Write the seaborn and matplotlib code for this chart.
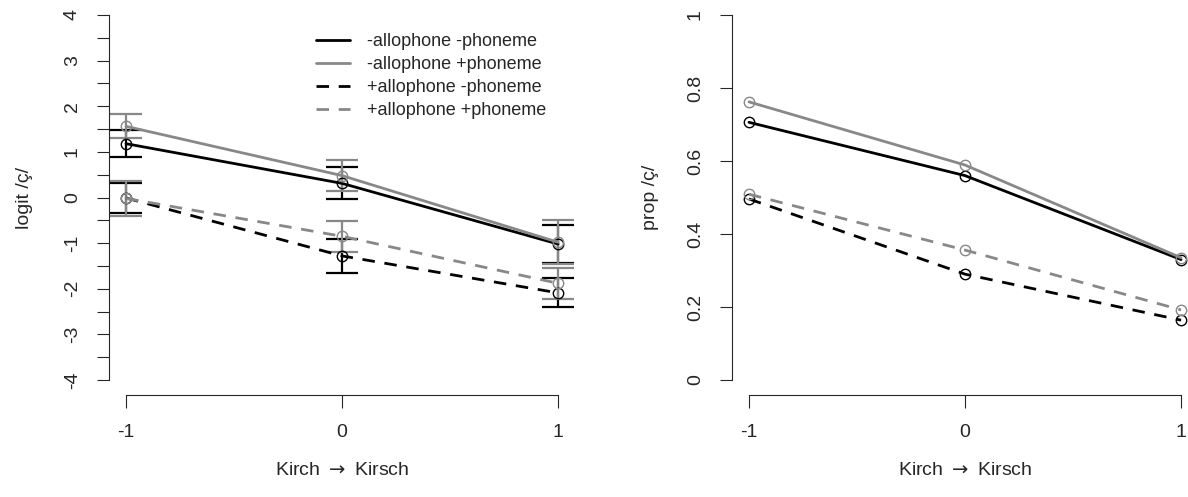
import matplotlib
matplotlib.use("Agg")
import matplotlib.pyplot as plt
from matplotlib.lines import Line2D
import seaborn as sns
import numpy as np
import pandas as pd

# ---- data ----
x_levels = [-1, 0, 1]
series_names = ["-allophone -phoneme", "-allophone +phoneme",
                "+allophone -phoneme", "+allophone +phoneme"]

logit_bs = [1.18, 0.31, -1.02]
logit_gs = [1.56, 0.48, -0.98]
logit_bd = [-0.01, -1.28, -2.09]
logit_gd = [-0.02, -0.85, -1.88]

se_bs = [0.30, 0.35, 0.41]
se_gs = [0.26, 0.34, 0.48]
se_bd = [0.32, 0.365, 0.32]
se_gd = [0.38, 0.34, 0.34]

prop_bs = [0.706, 0.560, 0.330]
prop_gs = [0.762, 0.589, 0.335]
prop_bd = [0.496, 0.290, 0.164]
prop_gd = [0.509, 0.356, 0.192]

right_yticks = [0, 0.2, 0.4, 0.6, 0.8, 1]
right_yticklabels = ["0", "0.2", "0.4", "0.6", "0.8", "1"]
xlabel = r"Kirch $\rightarrow$ Kirsch"

# ---- style ----
sns.set_style("ticks")
plt.rcParams['font.family'] = ['Liberation Sans', 'DejaVu Sans']
plt.rcParams['mathtext.fontset'] = 'dejavusans'
plt.rcParams['axes.linewidth'] = 0.8

BLACK = "#000000"
GREY = "#888888"
colors = [BLACK, GREY, BLACK, GREY]
styles = ["-", "-", (0, (4.5, 3.5)), (0, (4.5, 3.5))]
LW = 2.0
FS = 14
FS_LEG = 13

fig = plt.figure(figsize=(11.88, 4.97), dpi=100)
axL = fig.add_axes([0.0915, 0.206, 0.3928, 0.7932])
axR = fig.add_axes([0.6159, 0.206, 0.3928, 0.7932])

logits = [logit_bs, logit_gs, logit_bd, logit_gd]
ses = [se_bs, se_gs, se_bd, se_gd]
props = [prop_bs, prop_gs, prop_bd, prop_gd]

df_rows = []
for name, lv, sv, pv in zip(series_names, logits, ses, props):
    for xx, l, s, p in zip(x_levels, lv, sv, pv):
        df_rows.append(dict(cond=name, x=xx, logit=l, se=s, prop=p))
df = pd.DataFrame(df_rows)

# Left panel: logit with error bars
for name, c, ls in zip(series_names, colors, styles):
    sub = df[df.cond == name]
    axL.errorbar(sub.x, sub.logit, yerr=sub.se, fmt="none", ecolor=c,
                 elinewidth=1.6, capsize=11.5, capthick=1.6, zorder=2)
for name, c, ls in zip(series_names, colors, styles):
    sub = df[df.cond == name]
    sns.lineplot(x=sub.x.values, y=sub.logit.values, ax=axL, color=c,
                 linestyle=ls, linewidth=LW, marker="o", markersize=7.5,
                 mfc="none", mec=c, mew=1.0, zorder=3)

# Right panel: proportions
for name, c, ls in zip(series_names, colors, styles):
    sub = df[df.cond == name]
    sns.lineplot(x=sub.x.values, y=sub.prop.values, ax=axR, color=c,
                 linestyle=ls, linewidth=LW, marker="o", markersize=7.5,
                 mfc="none", mec=c, mew=1.0, zorder=3)

for ax in (axL, axR):
    ax.set_xlim(-1.08, 1.08)
    ax.set_xticks(x_levels)
    ax.set_xticklabels(["-1", "0", "1"])
    ax.spines["top"].set_visible(False)
    ax.spines["right"].set_visible(False)
    ax.spines["bottom"].set_bounds(-1, 1)
    ax.tick_params(axis="both", length=9, width=0.8, labelsize=FS, direction="out")
    ax.tick_params(axis="x", pad=12)
    ax.tick_params(axis="y", pad=11)
    ax.set_xlabel(xlabel, fontsize=FS, labelpad=15)

ticksL = np.arange(-4, 4.01, 0.5)
axL.set_ylim(-4.32, 4.32)
axL.set_yticks(ticksL)
axL.set_yticklabels([str(int(v)) if float(v).is_integer() else "" for v in ticksL],
                    rotation=90, va="center")
axL.spines["left"].set_bounds(-4, 4)
axL.set_ylabel("logit /\u00e7/", fontsize=FS, labelpad=22)

axR.set_ylim(-0.04, 1.04)
axR.set_yticks(right_yticks)
axR.set_yticklabels(right_yticklabels, rotation=90, va="center")
axR.spines["left"].set_bounds(0, 1)
axR.set_ylabel("prop /\u00e7/", fontsize=FS, labelpad=20)

handles = [Line2D([0], [0], color=c, linestyle=ls, linewidth=LW)
           for c, ls in zip(colors, styles)]
fig.legend(handles, series_names, loc="upper left",
           bbox_to_anchor=(316 / 1188, 1 - 33 / 497), frameon=False,
           fontsize=FS_LEG, handlelength=1.9, handletextpad=0.95,
           labelspacing=0.33, borderpad=0, borderaxespad=0)

fig.savefig("out.png", dpi=100)
